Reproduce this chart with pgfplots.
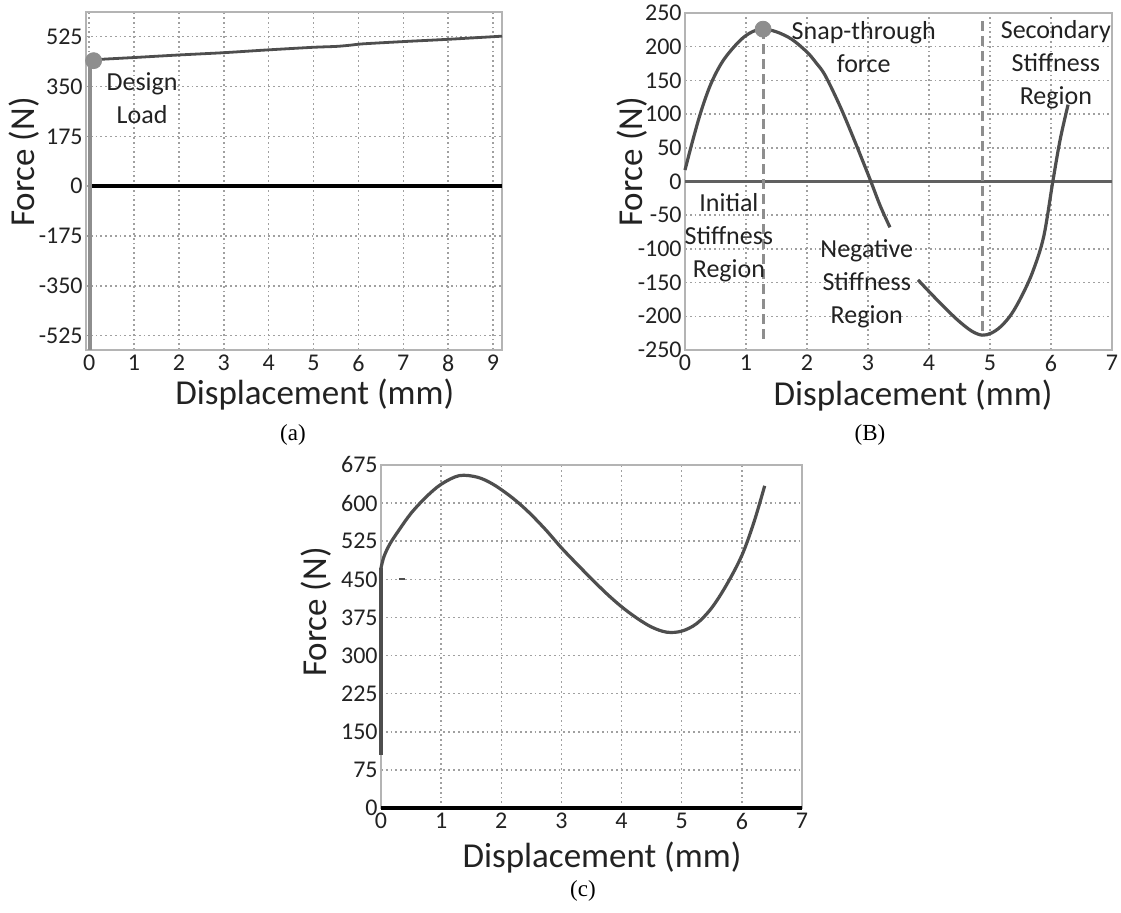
\documentclass[border=0pt]{standalone}
\usepackage{fontspec}
\setmainfont{Carlito}
\newfontfamily\capfont{Liberation Serif}
\usepackage{pgfplots}
\pgfplotsset{compat=1.18}
\definecolor{framec}{HTML}{B4B4B4}
\definecolor{gridc}{HTML}{A0A0A0}
\definecolor{curvec}{HTML}{4E4E4E}
\definecolor{lightc}{HTML}{8E8E8E}
\definecolor{txt}{HTML}{222222}
\pgfplotsset{
 panel/.style={
  scale only axis,
  axis line style={framec, line width=1.4pt},
  grid=major,
  major grid style={gridc, line width=0.75pt, dash pattern=on 0.9pt off 1.5pt},
  major tick length=0pt,
  tick label style={font=\fontsize{12}{14}\selectfont, text=txt},
  /pgf/number format/assume math mode=true,
  yticklabel style={inner sep=1.5pt},
  xticklabel style={inner sep=2.5pt},
  label style={font=\fontsize{17.5}{20}\selectfont, text=txt},
  clip=false,
 },
}
\tikzset{ann/.style={font=\fontsize{13}{16.5}\selectfont, text=txt, align=center, inner sep=0pt}}
\begin{document}
\begin{tikzpicture}
\path[use as bounding box] (0,0) rectangle (560.5pt,456.5pt);

% ---------------- (a)
\begin{axis}[panel,
  at={(43pt,281.5pt)}, anchor=south west,
  width=208pt, height=169pt,
  xmin=-0.07, xmax=9.2, ymin=-575, ymax=612,
  xtick={0,1,...,9},
  ytick={-525,-350,-175,0,175,350,525},
  xlabel={Displacement (mm)}, ylabel={Force (N)},
  xlabel style={at={(axis description cs:0.55,-0.133)}, anchor=center},
  ylabel style={at={(axis description cs:-0.149,0.556)}, anchor=center},
]
\addplot[black, line width=1.8pt] coordinates {(0,0) (9.2,0)};
\addplot[lightc, line width=2.2pt] coordinates {(0.02,-575) (0.02,425)};
\addplot[curvec, line width=1.4pt, smooth, tension=0.4] coordinates {
 (0.02,425) (0.07,437) (0.15,443) (0.3,446) (1,452) (2,461) (3,469) (4,479) (5,488) (5.5,491) (5.8,495) (6.1,500) (7,508) (8,516) (9.2,527)};
\addplot[lightc, only marks, mark=*, mark size=4pt] coordinates {(0.1,441)};
\node[ann] at (axis cs:1.18,308) {Design\\Load};
\end{axis}

% ---------------- (B)
\begin{axis}[panel,
  at={(342.5pt,281.5pt)}, anchor=south west,
  width=213.5pt, height=168.5pt,
  xmin=0, xmax=7, ymin=-250, ymax=250,
  xtick={0,1,...,7},
  ytick={-250,-200,...,250},
  xlabel={Displacement (mm)}, ylabel={Force (N)},
  xlabel style={at={(axis description cs:0.534,-0.134)}, anchor=center},
  ylabel style={at={(axis description cs:-0.124,0.558)}, anchor=center},
]
\addplot[curvec!90, line width=1.8pt] coordinates {(0,0) (7,0)};
\addplot[lightc, line width=1.5pt, dash pattern=on 5pt off 2.5pt] coordinates {(1.28,226) (1.28,-238)};
\addplot[lightc, line width=1.5pt, dash pattern=on 5pt off 2.5pt] coordinates {(4.87,238) (4.87,-228)};
\addplot[curvec, line width=1.6pt, smooth, tension=0.55] coordinates {
 (0.0,17) (0.13,62) (0.27,106) (0.43,146) (0.63,180) (0.9,209) (1.1,222) (1.28,226) (1.5,222) (1.75,211) (2.0,192) (2.15,176) (2.3,157) (2.55,110) (2.8,56) (3.03,4) (3.2,-36) (3.36,-68)};
\addplot[curvec, line width=1.6pt, smooth, tension=0.55] coordinates {
 (3.82,-146) (4.05,-168) (4.3,-191) (4.5,-208) (4.7,-222) (4.87,-228) (5.02,-225) (5.18,-215) (5.35,-197) (5.52,-170) (5.7,-134) (5.88,-82) (6.03,0) (6.15,62) (6.28,114)};
\addplot[lightc, only marks, mark=*, mark size=4pt] coordinates {(1.28,226)};
\node[ann] at (axis cs:2.93,199) {Snap-through\\force};
\node[ann] at (axis cs:6.08,174) {Secondary\\Stiffness\\Region};
\node[ann] at (axis cs:0.72,-84) {Initial\\Stiffness\\Region};
\node[ann] at (axis cs:2.98,-151) {Negative\\Stiffness\\Region};
\end{axis}

% ---------------- (c)
\begin{axis}[panel,
  at={(190.5pt,52.5pt)}, anchor=south west,
  width=210.5pt, height=171.5pt,
  xmin=0, xmax=7, ymin=0, ymax=675,
  xtick={0,1,...,7},
  ytick={0,75,...,675},
  xlabel={Displacement (mm)}, ylabel={Force (N)},
  xlabel style={at={(axis description cs:0.525,-0.143)}, anchor=center},
  ylabel style={at={(axis description cs:-0.154,0.571)}, anchor=center},
]
\addplot[black, line width=1.8pt] coordinates {(0,0) (7,0)};
\addplot[curvec, line width=1.6pt] coordinates {(0,105) (0,472)};
\addplot[curvec, line width=1pt] coordinates {(0.3,450) (0.4,450)};
\addplot[curvec, line width=1.6pt, smooth, tension=0.55] coordinates {
 (0,472) (0.05,495) (0.15,520) (0.3,547) (0.5,580) (0.75,612) (1.0,637) (1.3,654) (1.6,651) (1.85,638) (2.1,618) (2.3,599) (2.5,577) (2.75,546) (3.0,512) (3.25,481) (3.5,451) (3.75,422) (4.0,396) (4.25,374) (4.5,356) (4.75,346) (5.0,348) (5.25,363) (5.5,394) (5.75,440) (6.0,497) (6.2,562) (6.38,634)};
\end{axis}

\node[font=\capfont\fontsize{11.5}{13}\selectfont] at (146.5pt,239pt) {(a)};
\node[font=\capfont\fontsize{11.5}{13}\selectfont] at (435pt,239pt) {(B)};
\node[font=\capfont\fontsize{11.5}{13}\selectfont] at (291.5pt,11pt) {(c)};
\end{tikzpicture}
\end{document}
